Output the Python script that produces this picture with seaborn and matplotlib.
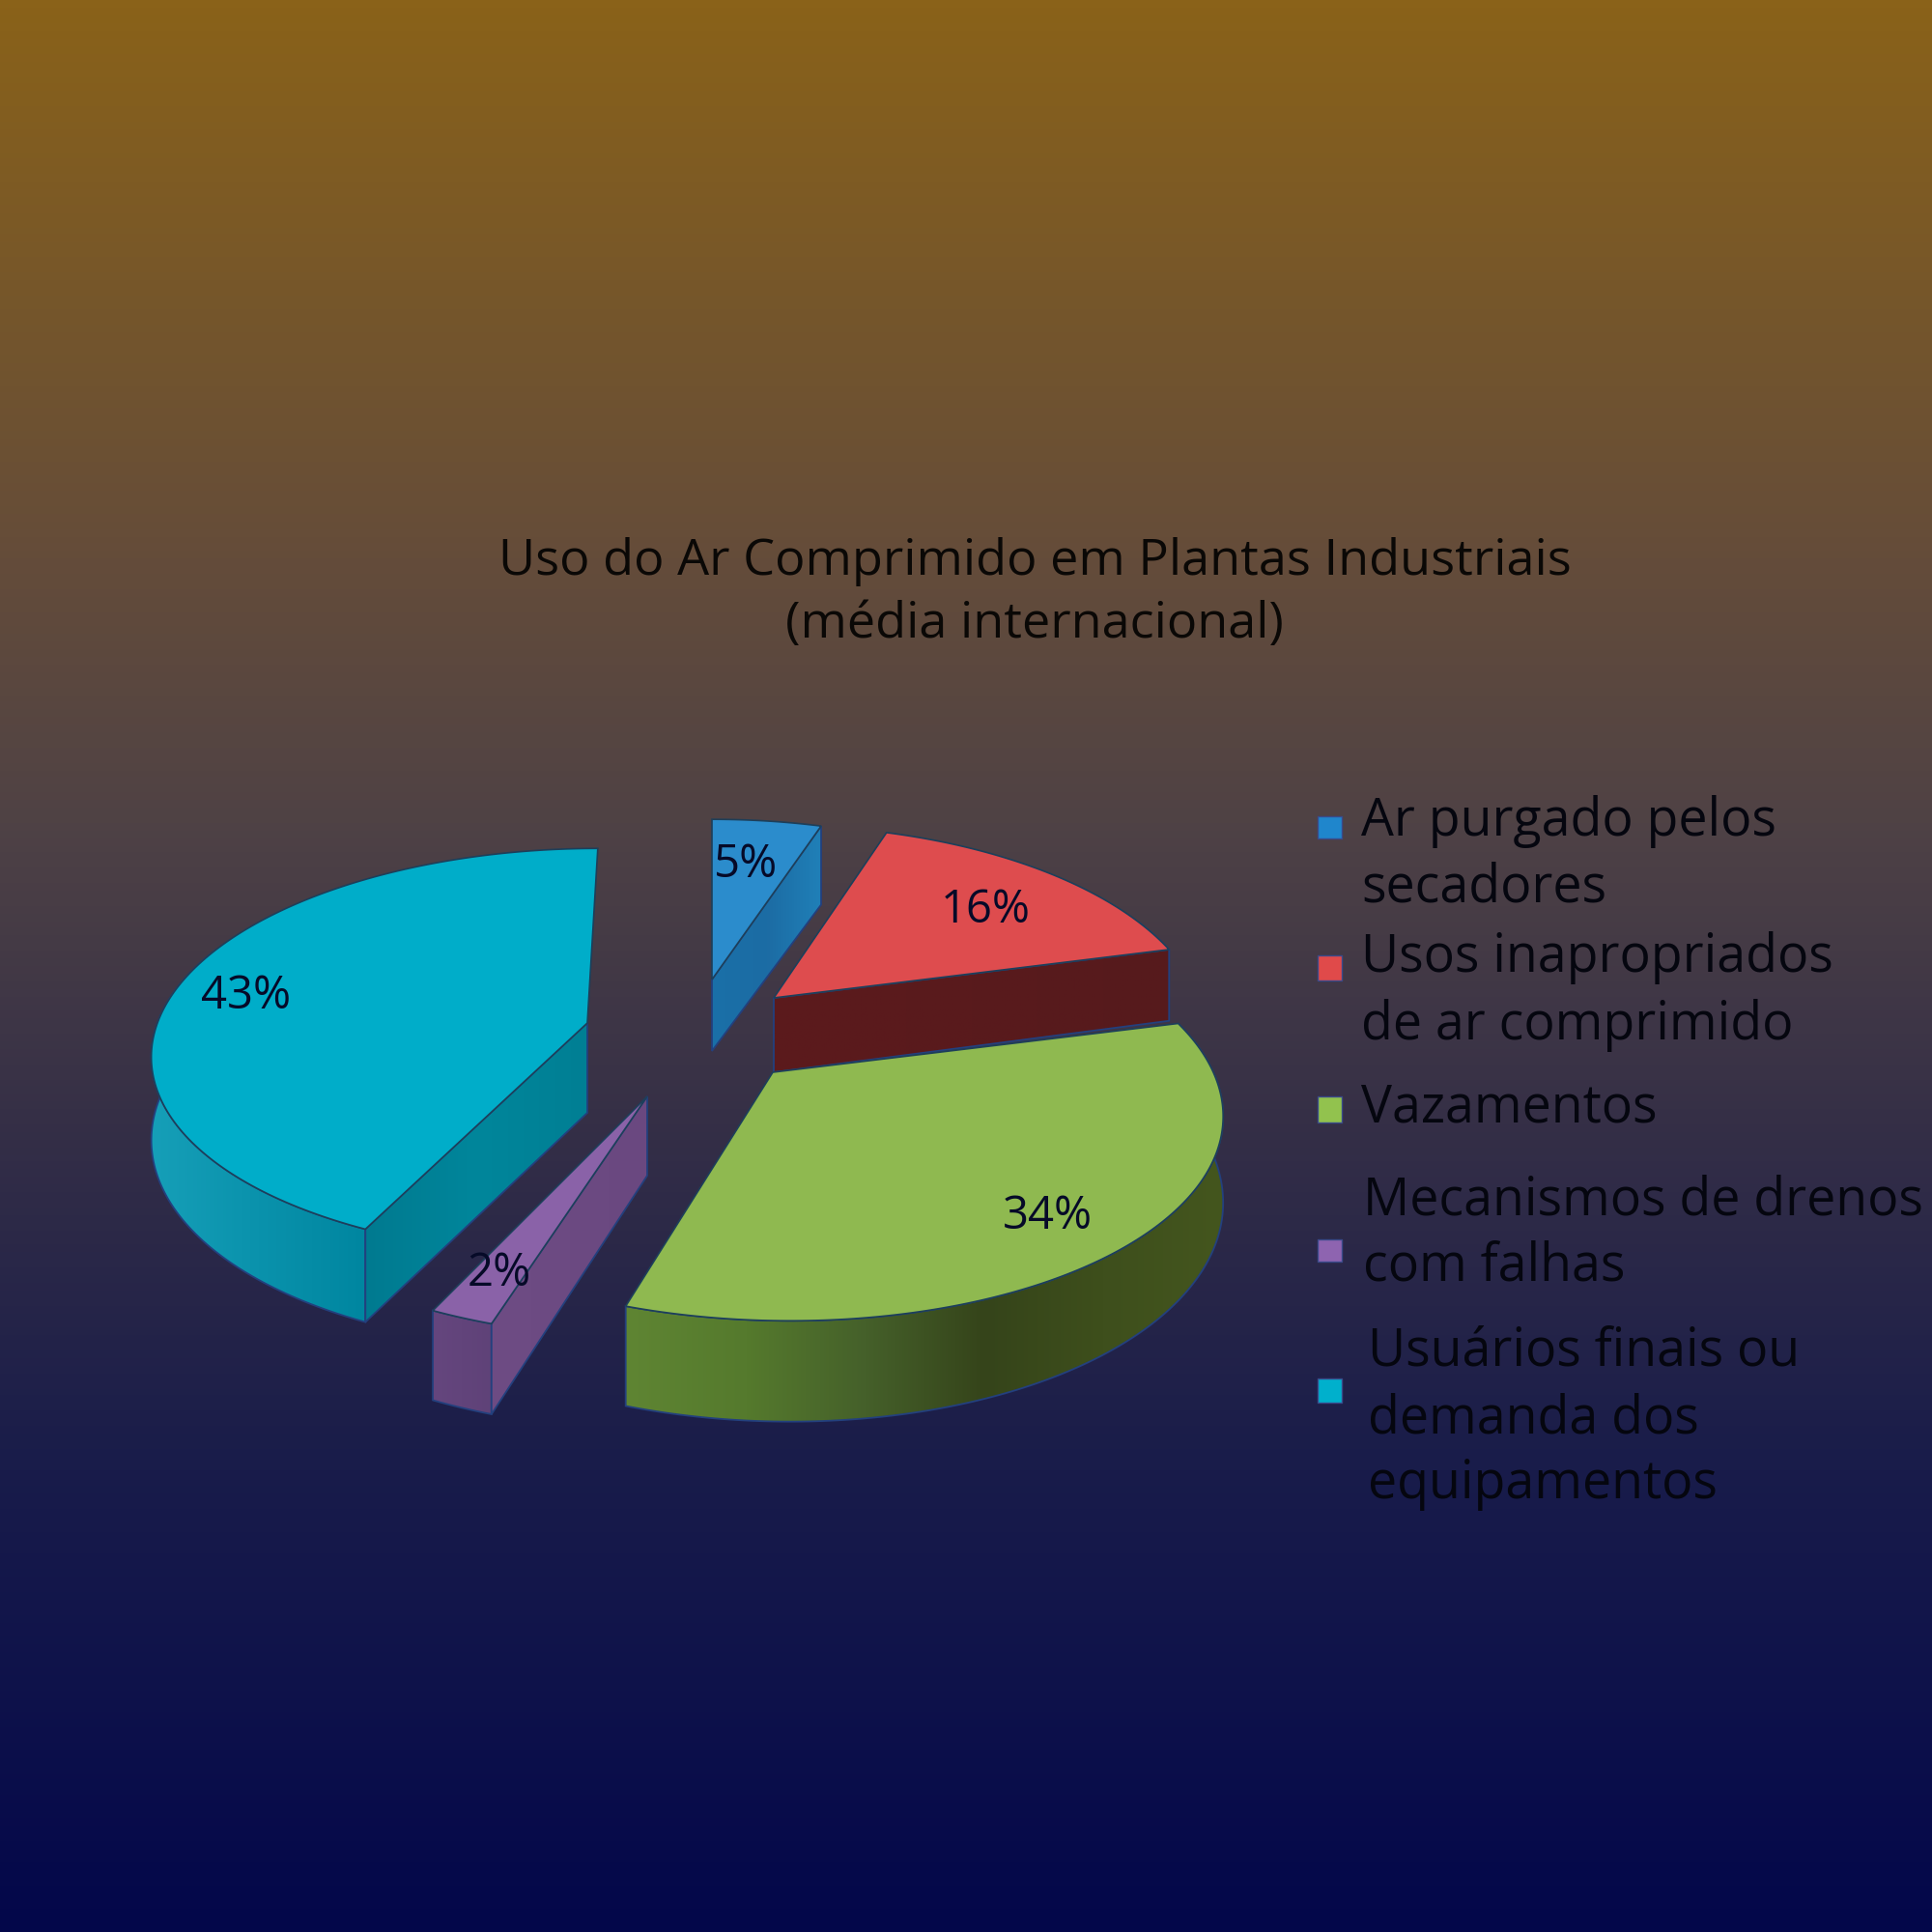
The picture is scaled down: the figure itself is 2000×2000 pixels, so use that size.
import numpy as np
import matplotlib
matplotlib.use("Agg")
import matplotlib.pyplot as plt
from matplotlib.patches import Polygon, Rectangle
from matplotlib.colors import LinearSegmentedColormap, ListedColormap
import seaborn as sns

# ---- data ----
categories = ["Ar purgado pelos\nsecadores", "Usos inapropriados\nde ar comprimido", "Vazamentos",
              "Mecanismos de drenos\ncom falhas", "Usuários finais ou\ndemanda dos\nequipamentos"]
values = [5, 16, 34, 2, 43]
title_lines = ["Uso do Ar Comprimido em Plantas Industriais", "(média internacional)"]

# ---- styles ----
top_colors = ["#2b8ccc", "#de4c4e", "#8fb950", "#8a62a8", "#00adc9"]
key_colors = ["#1f86cc", "#e04a4a", "#92c24e", "#8e64b0", "#00b0cc"]
rim_colors = [["#1e78b4", "#1e78b4"], ["#5a1a1c", "#5a1a1c"],
              ["#5f8533", "#557a2d", "#45602a", "#35441a", "#3e4f1c", "#44561e"],
              ["#65467e", "#5f4278"], ["#169fb8", "#0a92ac", "#0086a0"]]
cut_colors = [["#1a70a8", "#1c6ca4", "#2080b8"], ["#5c1a1d", "#561a1c"],
              ["#3a4a1c", "#3a4a1c"], ["#6e4c84", "#6a4880"], ["#007a90", "#00869b", "#007f94"]]
bg_stops = [(0, "#8a6219"), (0.29, "#644c3a"), (0.425, "#4f4245"), (0.6, "#322d47"), (0.75, "#1a1d4a"), (1, "#03074a")]

# ---- layout (in 2000 px canvas units) ----
apex = [(737, 1014), (801, 1033), (800, 1110), (670, 1135), (608, 1059)]
rim_depth = [95, 77, 86, 78, 84]
apex_depth = [74, 77, 85, 82, 93]
cut_side = ["end", "end", None, "start", "start"]
draw_order = [0, 1, 4, 3, 2]
radius_x = [427, 441, 456, 447, 445]
radius_y = [195, 210, 212, 206, 206]
persp = [0.176, 0.176, 0.176, 0.176, 0.14]
skew = [0.0, 0.0, 0.07, 0.02, -0.06]
rim_limit = 0.4  # rim is only visible where the pie's near side faces the viewer
label_pos = [(772, 895), (1020, 942), (1084, 1259), (517, 1318), (255, 1031)]
title_y = [595, 660]
key_x, key_w = 1364, 25
key_y = [(845, 868), (989, 1015), (1135, 1162), (1283, 1306), (1427, 1452)]
text_x = [1409, 1409, 1409, 1411, 1416]
text_base = [[865, 933], [1006, 1076], [1162], [1258, 1326], [1413, 1483, 1551]]

sns.set_theme(style="white")
plt.rcParams["font.family"] = ["Open Sans", "DejaVu Sans"]
fig = plt.figure(figsize=(20, 20), dpi=100)
ax = fig.add_axes([0, 0, 1, 1])
ax.axis("off")

bg = LinearSegmentedColormap.from_list("bg", bg_stops)
ax.imshow(np.linspace(0, 1, 1000)[:, None], cmap=bg, extent=(0, 2000, 2000, 0), aspect="auto", zorder=0)


def project(i, theta):
    s = 1 / (1 + persp[i] * np.cos(theta))
    dy = -radius_y[i] * np.cos(theta) * s
    dx = radius_x[i] * np.sin(theta) * s + skew[i] * dy
    return np.column_stack([apex[i][0] + dx, apex[i][1] + dy]), s


def shaded(poly, colors, z):
    cmap = ListedColormap(sns.blend_palette(colors, n_colors=256))
    xs, ys = poly[:, 0], poly[:, 1]
    im = ax.imshow(np.linspace(0, 1, 256)[None, :], cmap=cmap, aspect="auto", zorder=z,
                   extent=(xs.min(), xs.max(), ys.max(), ys.min()))
    patch = Polygon(poly, closed=True, transform=ax.transData, fc="none", ec="none")
    ax.add_patch(patch)
    im.set_clip_path(patch)
    ax.add_patch(Polygon(poly, closed=True, fc="none", ec="#23407e", lw=1.3, zorder=z + 0.1))


edges = np.deg2rad(np.concatenate([[0], np.cumsum(values)]) * 3.6)
z = 2
for i in draw_order:
    c = apex[i]
    th = np.linspace(edges[i], edges[i + 1], 160)
    arc, s = project(i, th)
    low = arc + np.column_stack([np.zeros_like(th), rim_depth[i] * s])
    near = np.cos(th) < rim_limit
    if near.sum() > 1:
        shaded(np.vstack([arc[near], low[near][::-1]]), rim_colors[i], z)
    if cut_side[i]:
        k = 0 if cut_side[i] == "start" else -1
        cut = np.array([c, arc[k], low[k], (c[0], c[1] + apex_depth[i])])
        shaded(cut, cut_colors[i], z + 0.2)
    top = np.vstack([[c], arc])
    ax.add_patch(Polygon(top, closed=True, fc=top_colors[i], ec="#1d3f5a", lw=1.2, zorder=z + 0.4))
    z += 1

ax.set_xlim(0, 2000)
ax.set_ylim(2000, 0)

renderer = fig.canvas.get_renderer()


def fit(s, target):
    t = ax.text(0, 0, s, fontsize=30)
    w = t.get_window_extent(renderer).width
    t.remove()
    return 30 * target / w


# pie percentage labels
for p, v in zip(label_pos, values):
    ax.text(p[0], p[1], f"{v}%", fontsize=34, color="#060a28", ha="center", va="center", zorder=20)

# title
title_fs = fit(title_lines[0], 1111)
for line, y in zip(title_lines, title_y):
    ax.text(1071, y, line, fontsize=title_fs, color="#0a0806", ha="center", va="baseline", zorder=20)

# legend
legend_fs = fit("Mecanismos de drenos", 580)
for i, cat in enumerate(categories):
    ax.add_patch(Rectangle((key_x, key_y[i][0]), key_w, key_y[i][1] - key_y[i][0], fc=key_colors[i],
                           ec="#3a4a8a", lw=1, zorder=20))
    for line, y in zip(cat.split("\n"), text_base[i]):
        ax.text(text_x[i], y, line, fontsize=legend_fs, color="#05060f", ha="left", va="baseline", zorder=20)

fig.savefig("out.png", dpi=100)
